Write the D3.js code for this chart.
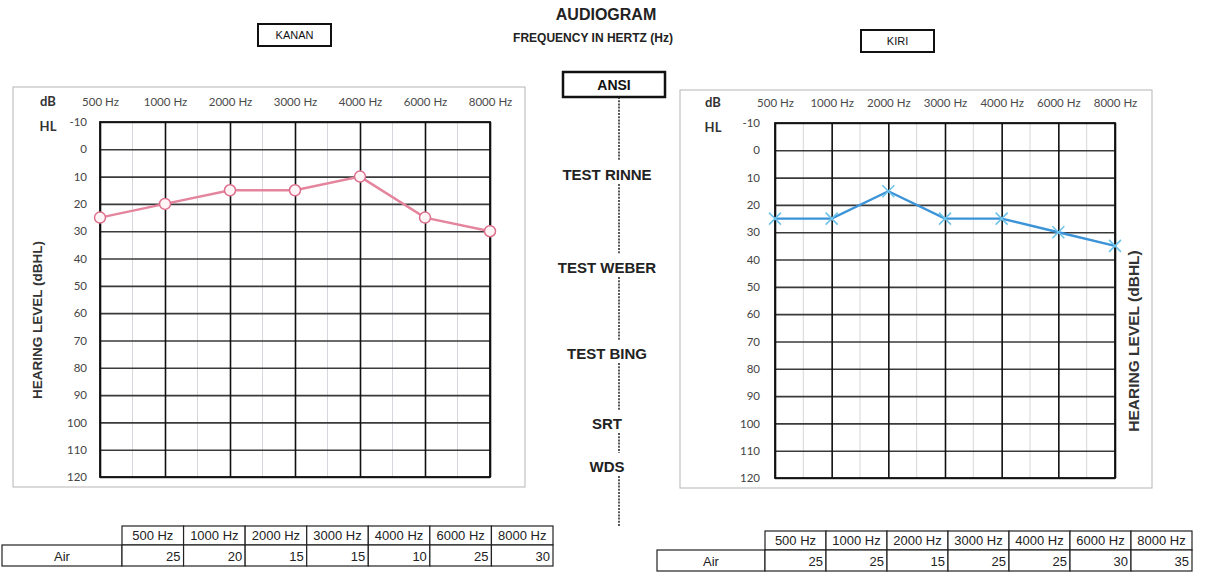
<!DOCTYPE html>
<html>
<head>
<meta charset="utf-8">
<script src="https://cdn.jsdelivr.net/npm/d3@7"></script>
<style>
  body { margin: 0; background: #fff; }
  svg { display: block; }
  .narrow { font-family: "Liberation Sans Narrow", "Arial Narrow", "Liberation Sans", sans-serif; }
</style>
</head>
<body>
<svg id="chart" width="1206" height="575"></svg>
<script>
// data
var freqLabels = ["500 Hz", "1000 Hz", "2000 Hz", "3000 Hz", "4000 Hz", "6000 Hz", "8000 Hz"]
var dbTicks = [-10, 0, 10, 20, 30, 40, 50, 60, 70, 80, 90, 100, 110, 120]
var kananAir = [25, 20, 15, 15, 10, 25, 30]
var kiriAir = [25, 25, 15, 25, 25, 30, 35]
var sideTests = ["TEST RINNE", "TEST WEBER", "TEST BING", "SRT", "WDS"]

var svg = d3.select("#chart")

// header
svg.append("text").attr("x", 606).attr("y", 20).attr("text-anchor", "middle")
    .attr("font-family", "Liberation Sans, Arial, sans-serif").attr("font-weight", "bold")
    .attr("font-size", 16).attr("fill", "#222").text("AUDIOGRAM")
svg.append("text").attr("class", "narrow").attr("x", 593).attr("y", 42).attr("text-anchor", "middle")
    .attr("font-weight", "bold").attr("font-size", 12).attr("fill", "#222")
    .text("FREQUENCY  IN  HERTZ (Hz)")

function labelBox(x, y, w, h, txt, sw, fs) {
    svg.append("rect").attr("x", x).attr("y", y).attr("width", w).attr("height", h)
	.attr("fill", "white").attr("stroke", "#111").attr("stroke-width", sw)
    svg.append("text").attr("class", "narrow").attr("x", x + w / 2).attr("y", y + h / 2 + fs * 0.36)
	.attr("text-anchor", "middle").attr("font-size", fs).attr("fill", "#111")
	.attr("font-weight", fs > 12 ? "bold" : "normal").text(txt)
}
labelBox(258, 24, 73, 22, "KANAN", 2, 11)
labelBox(861, 30, 73, 22, "KIRI", 2, 11)
labelBox(563, 72, 102, 25, "ANSI", 2.5, 14)

// centre column of tests with dotted line
var testY = [175, 268, 354, 424, 467]
var stops = [97].concat(testY.flatMap(function(y) { return [y - 14, y + 9] })).concat([527])
for (var i = 0; i < stops.length; i += 2) {
    svg.append("line").attr("x1", 619).attr("x2", 619).attr("y1", stops[i]).attr("y2", stops[i + 1])
	.attr("stroke", "#222").attr("stroke-width", 1.5).attr("stroke-dasharray", "2,1.2")
}
svg.selectAll("text.test").data(sideTests).enter().append("text")
    .attr("class", "narrow test")
    .attr("x", 607).attr("y", function(d, i) { return testY[i] + 5 })
    .attr("text-anchor", "middle").attr("font-weight", "bold").attr("font-size", 15)
    .attr("fill", "#222").text(function(d) { return d })

function drawAudiogram(opt) {
    var g = svg.append("g")
    g.append("rect").attr("x", opt.box[0]).attr("y", opt.box[1])
	.attr("width", opt.box[2] - opt.box[0]).attr("height", opt.box[3] - opt.box[1])
	.attr("fill", "white").attr("stroke", "#b5b5b5").attr("stroke-width", 1)

    var x = d3.scalePoint().domain(freqLabels).range([opt.left, opt.right])
    var y = d3.scaleLinear().domain([-10, 120]).range([opt.top, opt.bottom])
    var h = opt.bottom - opt.top, w = opt.right - opt.left

    // light mid-octave lines
    var mids = d3.pairs(freqLabels).map(function(p) { return (x(p[0]) + x(p[1])) / 2 })
    g.selectAll("line.minor").data(mids).enter().append("line")
	.attr("x1", function(d) { return d }).attr("x2", function(d) { return d })
	.attr("y1", opt.top).attr("y2", opt.bottom)
	.attr("stroke", "#d6d6dc").attr("stroke-width", 1)

    var yAxis = g.append("g").attr("transform", "translate(" + opt.left + ",0)")
	.call(d3.axisLeft(y).tickValues(dbTicks).tickFormat(String).tickSize(-w).tickPadding(opt.tickPad))
    yAxis.select(".domain").remove()
    yAxis.selectAll(".tick line").attr("stroke", "#3a3a3a").attr("stroke-width", 1.6)
    yAxis.selectAll(".tick text").attr("font-family", "Lato, 'Noto Sans', sans-serif")
	.attr("font-size", 11.5).attr("fill", "#444")

    var xAxis = g.append("g").attr("transform", "translate(0," + opt.top + ")")
	.call(d3.axisTop(x).tickSize(-h).tickPadding(16))
    xAxis.select(".domain").remove()
    xAxis.selectAll(".tick line").attr("stroke", "#111").attr("stroke-width", 1.6)
    xAxis.selectAll(".tick text").attr("font-family", "Lato, 'Noto Sans', sans-serif")
	.attr("font-size", opt.freqFont).attr("fill", "#4a4a4a")

    g.append("rect").attr("x", opt.left).attr("y", opt.top).attr("width", w).attr("height", h)
	.attr("fill", "none").attr("stroke", "#111").attr("stroke-width", 1.8)

    g.append("text").attr("x", opt.dbX).attr("y", opt.top - 16).attr("text-anchor", "middle")
	.attr("font-family", "Lato, 'Noto Sans', sans-serif").attr("font-weight", "bold")
	.attr("font-size", 13).attr("fill", "#333").text("dB")
    g.append("text").attr("x", opt.dbX).attr("y", opt.top + 9).attr("text-anchor", "middle")
	.attr("font-family", "Lato, 'Noto Sans', sans-serif").attr("font-weight", "bold")
	.attr("font-size", 13).attr("fill", "#333").text("HL")

    g.append("text").attr("transform", "translate(" + opt.labX + "," + opt.labY + ") rotate(-90)")
	.attr("text-anchor", "middle").attr("font-family", "Liberation Sans, Arial, sans-serif")
	.attr("font-weight", "bold").attr("font-size", opt.labFont).attr("fill", "#333")
	.text("HEARING LEVEL (dBHL)")

    var line = d3.line().x(function(d, i) { return x(freqLabels[i]) }).y(function(d) { return y(d) })
    g.append("path").datum(opt.values).attr("d", line).attr("fill", "none")
	.attr("stroke", opt.lineColor).attr("stroke-width", 2.4)

    var pts = g.selectAll("g.pt").data(opt.values).enter().append("g")
	.attr("transform", function(d, i) { return "translate(" + x(freqLabels[i]) + "," + y(d) + ")" })
    if (opt.marker == "circle") {
	pts.append("circle").attr("r", 5.5).attr("fill", "#fff5f7")
	    .attr("stroke", opt.markColor).attr("stroke-width", 1.5)
    } else {
	pts.append("path").attr("d", "M-6,-6L6,6M-6,6L6,-6")
	    .attr("stroke", opt.markColor).attr("stroke-width", 1.6).attr("fill", "none")
    }
}

drawAudiogram({box: [13, 87, 525, 487], left: 100, right: 490, top: 122, bottom: 477,
	       tickPad: 13, freqFont: 11.5, dbX: 48, labX: 42, labY: 320, labFont: 13.5,
	       values: kananAir, lineColor: "#e5849d", markColor: "#dd6f8c", marker: "circle"})
drawAudiogram({box: [680, 90, 1152, 488], left: 775, right: 1115, top: 123, bottom: 478,
	       tickPad: 15, freqFont: 11.5, dbX: 713, labX: 1139, labY: 341, labFont: 15.5,
	       values: kiriAir, lineColor: "#3b93d8", markColor: "#6ec3ea", marker: "x"})

// value tables under each chart
function drawTable(opt) {
    var g = svg.append("g").attr("class", "narrow")
    var cx = d3.scaleBand().domain(freqLabels).range([opt.start, opt.end])
    var rh = opt.rowH
    g.selectAll("rect.hd").data(freqLabels).enter().append("rect")
	.attr("x", function(d) { return cx(d) }).attr("y", opt.y).attr("width", cx.bandwidth()).attr("height", rh)
	.attr("fill", "white").attr("stroke", "#222").attr("stroke-width", 1.2)
    g.selectAll("text.hd").data(freqLabels).enter().append("text")
	.attr("x", function(d) { return cx(d) + cx.bandwidth() / 2 }).attr("y", opt.y + rh - 5)
	.attr("text-anchor", "middle").attr("font-size", 13).attr("fill", "#222").text(function(d) { return d })
    g.append("rect").attr("x", opt.labelX).attr("y", opt.y + rh).attr("width", opt.start - opt.labelX)
	.attr("height", rh + 2).attr("fill", "white").attr("stroke", "#222").attr("stroke-width", 1.2)
    g.append("text").attr("x", (opt.labelX + opt.start) / 2).attr("y", opt.y + 2 * rh - 3)
	.attr("text-anchor", "middle").attr("font-size", 13).attr("fill", "#222").text("Air")
    g.selectAll("rect.vl").data(opt.values).enter().append("rect")
	.attr("x", function(d, i) { return cx(freqLabels[i]) }).attr("y", opt.y + rh)
	.attr("width", cx.bandwidth()).attr("height", rh + 2)
	.attr("fill", "white").attr("stroke", "#222").attr("stroke-width", 1.2)
    g.selectAll("text.vl").data(opt.values).enter().append("text")
	.attr("x", function(d, i) { return cx(freqLabels[i]) + cx.bandwidth() - 3 }).attr("y", opt.y + 2 * rh - 3)
	.attr("text-anchor", "end").attr("font-size", 13).attr("fill", "#222").text(function(d) { return d })
}

drawTable({labelX: 2, start: 122, end: 553, y: 526, rowH: 19, values: kananAir})
drawTable({labelX: 657, start: 765, end: 1192, y: 531, rowH: 19, values: kiriAir})
</script>
</body>
</html>
